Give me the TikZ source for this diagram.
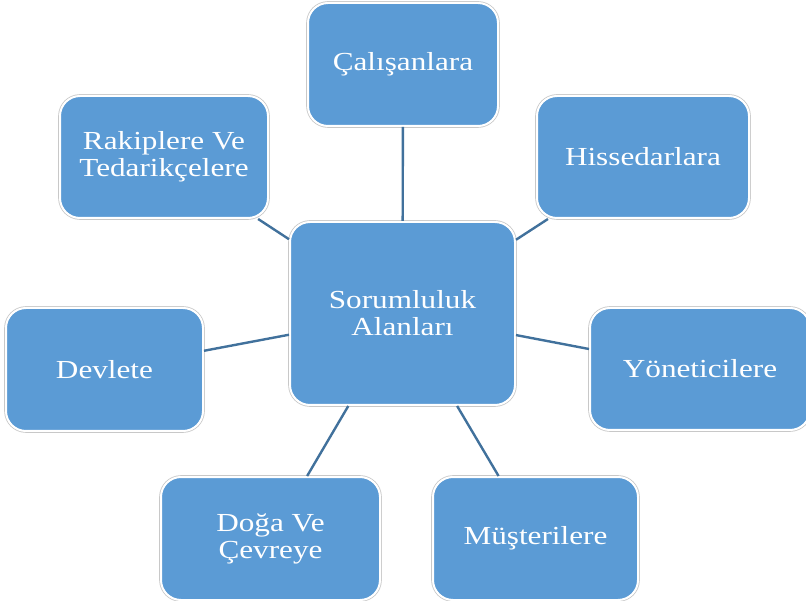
\documentclass[tikz,border=0pt]{standalone}
\usepackage{fontspec}
\setmainfont{Liberation Serif}[FakeStretch=1.2]
\definecolor{boxfill}{HTML}{5B9BD5}
\definecolor{linkcol}{HTML}{41719C}
\definecolor{rimgray}{HTML}{C8C8C8}
\begin{document}
\begin{tikzpicture}[x=1pt,y=-1pt,
  box/.style={rectangle, rounded corners=20pt, fill=boxfill, text=white,
    draw=white, line width=2pt,
    preaction={draw=rimgray, line width=3.6pt},
    align=center, font=\fontsize{26}{27}\selectfont, inner sep=0pt},
  link/.style={draw=linkcol, line width=2.4pt}]
\useasboundingbox (0,0) rectangle (806,601);
\newcommand{\mybox}[6]{\node[box, minimum width={#4-#2}, minimum height={#5-#3}] (#1) at ({(#2+#4)/2},{(#3+#5)/2}) {#6};}
\mybox{cal}{308}{3}{498}{126}{Çalışanlara}
\mybox{rak}{60}{96}{268}{218}{Rakiplere Ve\\Tedarikçelere}
\mybox{his}{537}{96}{749}{218}{Hissedarlara}
\mybox{dev}{6}{308}{203}{431}{Devlete}
\mybox{yon}{590}{308}{810}{430}{Yöneticilere}
\mybox{dog}{161}{477}{380}{600}{Doğa Ve\\Çevreye}
\mybox{mus}{433}{477}{638}{600}{Müşterilere}
\mybox{sor}{290}{222}{515}{405}{Sorumluluk\\Alanları}
\draw[link] (cal) -- (sor);
\draw[link] (rak) -- (sor);
\draw[link] (his) -- (sor);
\draw[link] (dev) -- (sor);
\draw[link] (yon.west) ++(0,-20) coordinate (yonw) (sor) -- (yonw);
\draw[link] (dog) -- (sor);
\draw[link] (mus) -- (sor);
\end{tikzpicture}
\end{document}
